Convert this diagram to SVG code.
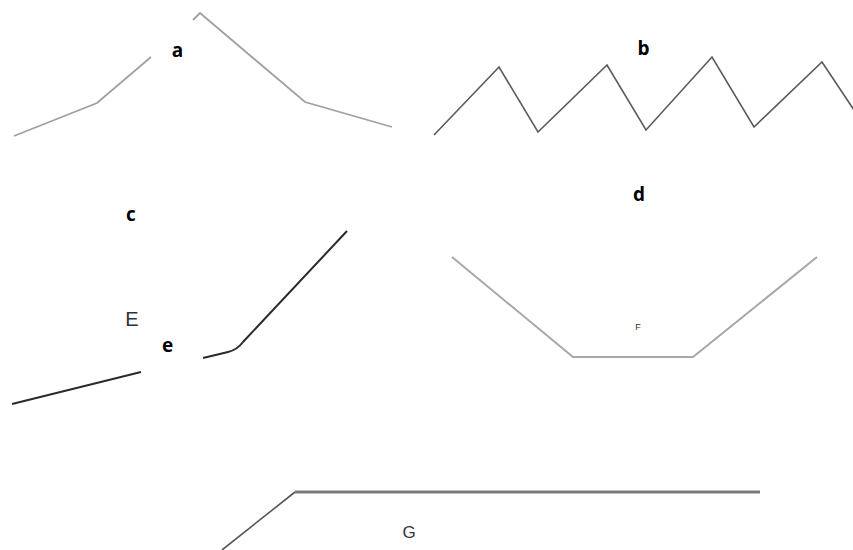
<svg xmlns="http://www.w3.org/2000/svg" width="853" height="550" viewBox="0 0 853 550">
<style>
.lbl{font-family:"Open Sans","Liberation Sans",sans-serif;font-weight:bold;font-size:19px;fill:#000}
.sm{font-family:"Liberation Sans",Arial,sans-serif;fill:#333}
.ln{fill:none;stroke-linejoin:miter;stroke-linecap:butt}
</style>
<rect width="853" height="550" fill="#fff"/>
<g id="panel-a">
<polyline class="ln" points="14,136 97,103 151,57" stroke="#a0a0a0" stroke-width="1.8"/>
<polyline class="ln" points="193,20 200,13 305,102 392,127" stroke="#a0a0a0" stroke-width="1.8"/>
<text class="lbl" x="177.5" y="57" text-anchor="middle">a</text>
</g>
<g id="panel-b">
<polyline class="ln" points="434,135 499,67 538,132 607,65 646,130 712,57 754,127 822,62 858,116" stroke="#5a5a5a" stroke-width="1.6"/>
<text class="lbl" x="643.5" y="55" text-anchor="middle">b</text>
</g>
<g id="panel-c">
<path class="ln" d="M12,404 L141,372" stroke="#2a2a2a" stroke-width="2"/>
<path class="ln" d="M203,358 L228,352 Q237,350 243,342 L347,231" stroke="#2a2a2a" stroke-width="2"/>
<text class="lbl" x="131" y="221" text-anchor="middle">c</text>
<text class="sm" x="132" y="326" font-size="20" text-anchor="middle">E</text>
<text class="lbl" x="167.5" y="352" text-anchor="middle">e</text>
</g>
<g id="panel-d">
<polyline class="ln" points="452,257 573,357 693,357 817,257" stroke="#a8a8a8" stroke-width="2"/>
<text class="lbl" x="639" y="201" text-anchor="middle">d</text>
<text class="sm" x="638" y="330" font-size="9" fill="#666" text-anchor="middle">F</text>
</g>
<g id="panel-g">
<path class="ln" d="M222,550 L295,492" stroke="#555" stroke-width="1.6"/>
<path class="ln" d="M295,492 L760,492" stroke="#7a7a7a" stroke-width="3"/>
<text class="sm" x="409" y="538" font-size="17" text-anchor="middle">G</text>
</g>
</svg>
